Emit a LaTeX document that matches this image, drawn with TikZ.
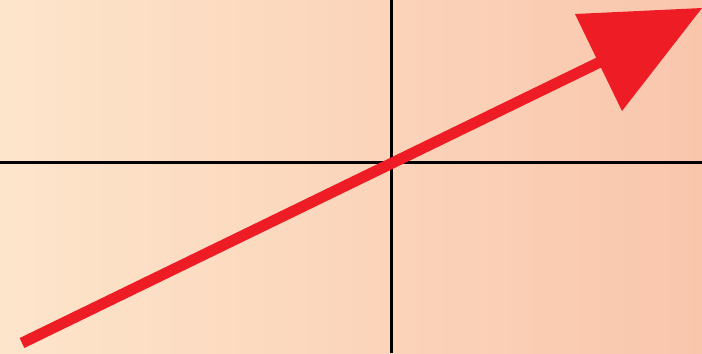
\documentclass[tikz,border=0pt]{standalone}
\usepackage{tikz}

\definecolor{peachlight}{HTML}{FDE5CB}
\definecolor{peachdark}{HTML}{F9C6AC}
\definecolor{arrowred}{HTML}{EE1C25}

\begin{document}
\begin{tikzpicture}[x=0.01cm,y=0.01cm]
\tikzset{axisline/.style={black,line width=0.03cm},
    vecline/.style={arrowred,line width=0.11cm}};
\shade[shading=axis,shading angle=60,left color=peachlight,right color=peachdark] (0,0) rectangle (702,353);
\useasboundingbox (0,0) rectangle (702,353);
    \draw[axisline] (0,191)--(702,191);
    \draw[axisline] (392,0)--(392,353);
    \coordinate (start) at (22,10);
    \coordinate (base) at (600,291);
    \coordinate (left) at (575,339);
    \coordinate (tip) at (702,345);
    \coordinate (right) at (622,242);
    \draw[vecline] (start)--(base);
    \fill[arrowred] (left)--(tip)--(right)--cycle;
\end{tikzpicture}
\end{document}
